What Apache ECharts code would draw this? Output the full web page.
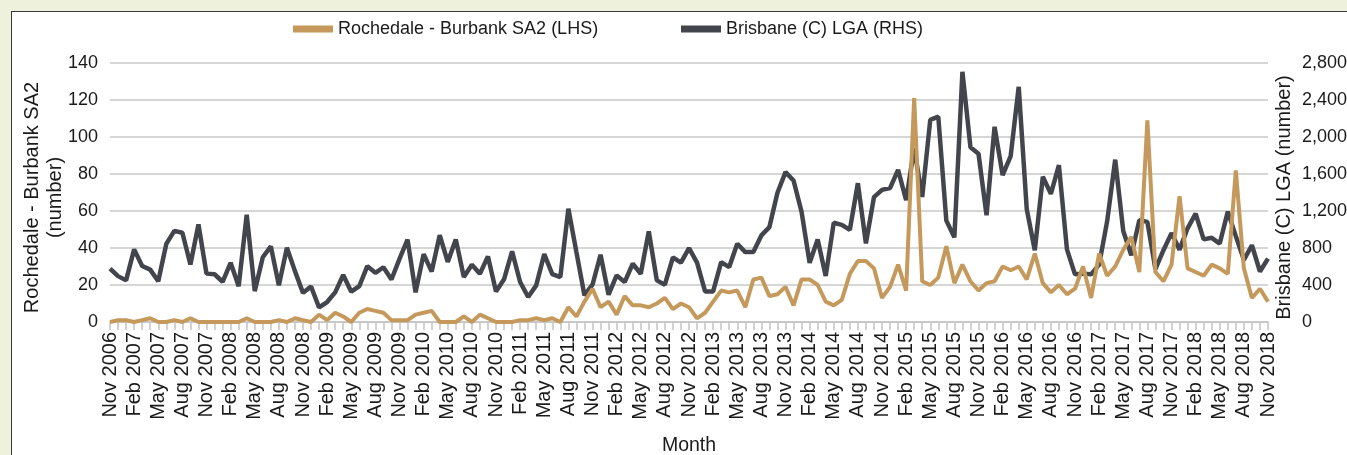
<!DOCTYPE html>
<html>
<head>
<meta charset="utf-8">
<script src="https://cdn.jsdelivr.net/npm/echarts@6/dist/echarts.min.js"></script>
<style>
  html, body { margin: 0; padding: 0; background: #eef2dc; width: 1347px; height: 455px; overflow: hidden; }
  #panel { position: absolute; left: 11px; top: 11px; width: 1400px; height: 500px; border: 1px solid #3a3a3a; background: #ffffff; overflow: hidden; }
  #chart { position: absolute; left: -12px; top: -12px; width: 1347px; height: 455px; }
</style>
</head>
<body>
<div id="panel"><div id="chart"></div></div>
<script>
// ---- data ----
const monthNames = ['Jan','Feb','Mar','Apr','May','Jun','Jul','Aug','Sep','Oct','Nov','Dec'];
const startYear = 2006, startMonth = 10, monthCount = 145; // Nov 2006 .. Nov 2018
const categories = [];
for (let k = 0; k < monthCount; k++) {
  const m = (startMonth + k) % 12;
  const y = startYear + Math.floor((startMonth + k) / 12);
  categories.push(monthNames[m] + ' ' + y);
}

// Rochedale - Burbank SA2 (LHS)
const rochedale = [
  0,1,1,0,1,2,0,0,1,0,2,0,0,0,0,0,0,2,0,0,
  0,1,0,2,1,0,4,1,5,3,0,5,7,6,5,1,1,1,4,5,
  6,0,0,0,3,0,4,2,0,0,0,1,1,2,1,2,0,8,3,11,
  18,8,11,4,14,9,9,8,10,13,7,10,8,2,5,11,17,16,17,8,
  23,24,14,15,19,9,23,23,20,11,9,12,26,33,33,29,13,19,31,17,
  121,22,20,24,41,21,31,22,17,21,22,30,28,30,23,37,21,16,20,15,
  18,30,13,37,25,30,39,46,27,109,27,22,31,68,29,27,25,31,29,26,
  82,29,13,18,11
];

// Brisbane (C) LGA (RHS)
const brisbane = [
  578,496,450,785,605,566,440,844,985,965,622,1055,523,516,435,640,386,1160,334,700,
  818,396,802,550,315,384,157,216,320,508,328,388,604,532,592,460,682,892,320,734,
  546,938,649,893,486,619,522,709,331,461,763,432,270,396,734,518,486,1225,756,288,
  403,727,295,504,432,630,522,979,450,403,698,641,799,641,331,331,648,594,846,756,
  756,936,1026,1397,1620,1530,1190,640,893,497,1073,1050,995,1500,850,1350,1428,1448,1645,1316,
  1878,1352,2185,2220,1096,916,2705,1890,1820,1154,2110,1587,1794,2542,1220,776,1570,1385,1695,785,
  515,523,515,620,1090,1755,983,721,1100,1082,572,776,961,782,1013,1172,893,910,848,1193,
  928,672,830,546,685
];

const leftTicks = { min: 0, max: 140, interval: 20 };
const rightTicks = { min: 0, max: 2800, interval: 400 };

const seriesNames = ['Rochedale - Burbank SA2 (LHS)', 'Brisbane (C) LGA (RHS)'];
const colors = ['#c4995b', '#42464c'];

// ---- chart ----
const FONT = 'Liberation Sans, Arial, sans-serif';
const TXT = '#1a1a1a';
const FS = 18;
const NFS = 20;
const chart = echarts.init(document.getElementById('chart'), null, { renderer: 'canvas' });

function commas(v) { return String(v).replace(/\B(?=(\d{3})+(?!\d))/g, ','); }

chart.setOption({
  animation: false,
  backgroundColor: 'transparent',
  textStyle: { fontFamily: FONT },
  legend: [
    { data: [seriesNames[0]], left: 293, top: 20, padding: 0, icon: 'rect', itemWidth: 40, itemHeight: 7,
      textStyle: { fontSize: FS, color: TXT, fontFamily: FONT }, itemGap: 0 },
    { data: [seriesNames[1]], left: 681, top: 20, padding: 0, icon: 'rect', itemWidth: 40, itemHeight: 7,
      textStyle: { fontSize: FS, color: TXT, fontFamily: FONT }, itemGap: 0 }
  ],
  grid: { left: 110, right: 79, top: 63, bottom: 133, containLabel: false, outerBoundsMode: 'none' },
  xAxis: {
    type: 'category',
    data: categories,
    boundaryGap: false,
    name: 'Month',
    nameLocation: 'middle',
    nameGap: 114,
    nameMoveOverlap: false,
    nameTextStyle: { fontSize: 19.5, color: TXT, fontFamily: FONT },
    axisLine: { show: true, lineStyle: { color: '#c3c3c3', width: 1.5 } },
    axisTick: { show: true, interval: 0, length: 8, lineStyle: { color: '#c3c3c3', width: 1.5 } },
    axisLabel: { interval: 2, rotate: 90, fontSize: 20, color: TXT, margin: 10, fontFamily: FONT },
    splitLine: { show: false }
  },
  yAxis: [
    {
      type: 'value', position: 'left',
      min: leftTicks.min, max: leftTicks.max, interval: leftTicks.interval,
      name: 'Rochedale - Burbank SA2\n(number)',
      nameLocation: 'middle', nameRotate: 90, nameGap: 43, nameMoveOverlap: false,
      nameTextStyle: { fontSize: NFS, color: TXT, fontFamily: FONT, lineHeight: 23, align: 'center', padding: [0, 10, 0, 0] },
      axisLine: { show: false }, axisTick: { show: false },
      axisLabel: { fontSize: FS, color: TXT, margin: 12, fontFamily: FONT },
      splitLine: { show: true, lineStyle: { color: '#c8c8c8', width: 1.5 } }
    },
    {
      type: 'value', position: 'right',
      min: rightTicks.min, max: rightTicks.max, interval: rightTicks.interval,
      name: 'Brisbane (C) LGA (number)',
      nameLocation: 'middle', nameRotate: 90, nameGap: 6, nameMoveOverlap: false,
      nameTextStyle: { fontSize: NFS, color: TXT, fontFamily: FONT, padding: [0, 10, 0, 0] },
      axisLine: { show: false }, axisTick: { show: false },
      axisLabel: { fontSize: FS, color: TXT, margin: 34, fontFamily: FONT, formatter: commas },
      splitLine: { show: false }
    }
  ],
  series: [
    { name: seriesNames[0], type: 'line', yAxisIndex: 0, data: rochedale, showSymbol: false,
      lineStyle: { color: colors[0], width: 4 }, itemStyle: { color: colors[0] }, z: 4 },
    { name: seriesNames[1], type: 'line', yAxisIndex: 1, data: brisbane, showSymbol: false,
      lineStyle: { color: colors[1], width: 4.5 }, itemStyle: { color: colors[1] }, z: 3 }
  ]
});
</script>
</body>
</html>
